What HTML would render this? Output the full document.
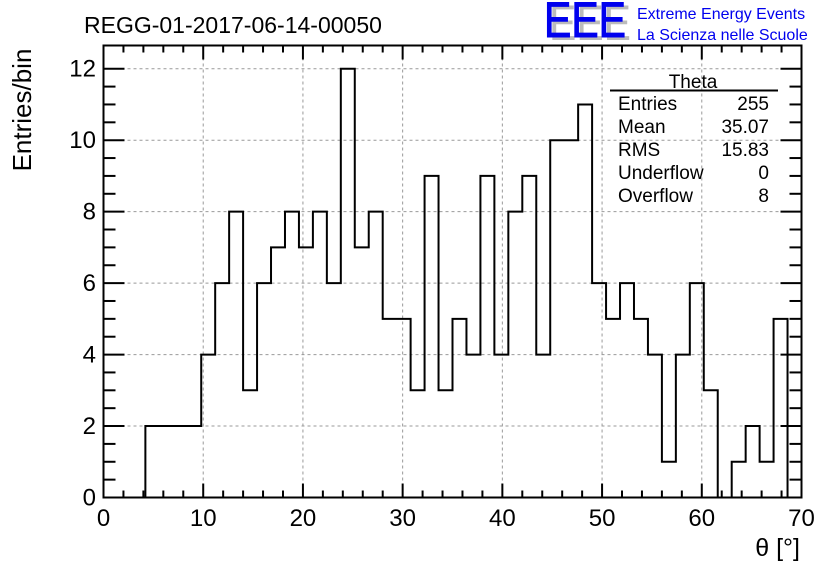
<!DOCTYPE html>
<html><head><meta charset="utf-8"><style>
html,body{margin:0;padding:0;background:#fff;}
svg{display:block;font-family:"Liberation Sans",sans-serif;}
</style></head><body>
<svg id="c" width="836" height="572" viewBox="0 0 836 572">
<text x="84" y="33" font-size="23">REGG-01-2017-06-14-00050</text>
<g>
<text x="549" y="40" font-size="50" fill="#bbb" textLength="82" lengthAdjust="spacingAndGlyphs">EEE</text>
<text x="544" y="37" font-size="50" fill="#0000ee" stroke="#0000ee" stroke-width="1" textLength="82" lengthAdjust="spacingAndGlyphs">EEE</text>
<text x="637" y="19" font-size="16" fill="#0000ee">Extreme Energy Events</text>
<text x="637" y="40" font-size="16" fill="#0000ee">La Scienza nelle Scuole</text>
</g>
<g id="grid"></g>
<g id="axes"></g>
<path id="hist" fill="none" stroke="#000" stroke-width="2"/>
<rect x="103.5" y="45.5" width="698" height="452" fill="none" stroke="#000" stroke-width="2"/>
<g font-size="19">
<text x="693" y="88" text-anchor="middle">Theta</text>
<line x1="610" y1="90.5" x2="778" y2="90.5" stroke="#000" stroke-width="2"/>
<text x="618" y="110">Entries</text><text x="769" y="110" text-anchor="end">255</text>
<text x="618" y="133">Mean</text><text x="769" y="133" text-anchor="end">35.07</text>
<text x="618" y="156">RMS</text><text x="769" y="156" text-anchor="end">15.83</text>
<text x="618" y="179">Underflow</text><text x="769" y="179" text-anchor="end">0</text>
<text x="618" y="202">Overflow</text><text x="769" y="202" text-anchor="end">8</text>
</g>
<text transform="translate(31,110) rotate(-90)" text-anchor="middle" font-size="26">Entries/bin</text>
<text x="800" y="556" text-anchor="end" font-size="25">θ [°]</text>
</svg>
<script>
const binValues=[0,0,0,2,2,2,2,4,6,8,3,6,7,8,7,8,6,12,7,8,5,5,3,9,3,5,4,9,4,8,9,4,10,10,11,6,5,6,5,4,1,4,6,3,0,1,2,1,5,0];
const xTicks=[0,10,20,30,40,50,60,70];
const yTicks=[0,2,4,6,8,10,12];
const xMin=0,xMax=70,yMin=0,yMax=12.65,binWidth=1.4;
const L=103.5,R=801.5,T=45.5,B=497.5;
const sx=v=>L+(v-xMin)/(xMax-xMin)*(R-L);
const sy=v=>B-(v-yMin)/(yMax-yMin)*(B-T);
const NS="http://www.w3.org/2000/svg";
const grid=document.getElementById('grid'),axes=document.getElementById('axes');
function ln(p,x1,y1,x2,y2,st,w,d){const l=document.createElementNS(NS,'line');l.setAttribute('x1',x1);l.setAttribute('y1',y1);l.setAttribute('x2',x2);l.setAttribute('y2',y2);l.setAttribute('stroke',st);l.setAttribute('stroke-width',w);if(d)l.setAttribute('stroke-dasharray',d);p.appendChild(l);return l;}
xTicks.forEach(v=>{
 if(v>xMin&&v<xMax){const g=ln(grid,sx(v),T,sx(v),B,'#999',1,'3,3');
 
 }
 const t=document.createElementNS(NS,'text');t.setAttribute('x',sx(v));t.setAttribute('y',526);t.setAttribute('text-anchor','middle');t.setAttribute('font-size','24');t.textContent=v;
 
 
 axes.appendChild(t);
});
yTicks.forEach(v=>{
 if(v>yMin){const g=ln(grid,L,sy(v),R,sy(v),'#999',1,'3,3');
 
 }
 const t=document.createElementNS(NS,'text');t.setAttribute('x',96);t.setAttribute('y',sy(v)+8);t.setAttribute('text-anchor','end');t.setAttribute('font-size','24');t.textContent=v;
 
 
 axes.appendChild(t);
});
for(let v=xMin;v<=xMax+1e-9;v+=2){const maj=Math.abs(v%10)<1e-9;const h=maj?14:7;
 ln(axes,sx(v),B,sx(v),B-h,'#000',2);ln(axes,sx(v),T,sx(v),T+h,'#000',2);}
for(let v=yMin;v<=12+1e-9;v+=0.5){const maj=Math.abs(v%2)<1e-9;const h=maj?21:12;
 ln(axes,L,sy(v),L+h,sy(v),'#000',2);ln(axes,R,sy(v),R-h,sy(v),'#000',2);}
let d='M'+sx(0)+','+sy(0);
binValues.forEach((v,i)=>{const x0=sx(i*binWidth),x1=sx((i+1)*binWidth);d+=' L'+x0+','+sy(v)+' L'+x1+','+sy(v);});
d+=' L'+sx(binValues.length*binWidth)+','+sy(0);
document.getElementById('hist').setAttribute('d',d);
</script>
</body></html>
